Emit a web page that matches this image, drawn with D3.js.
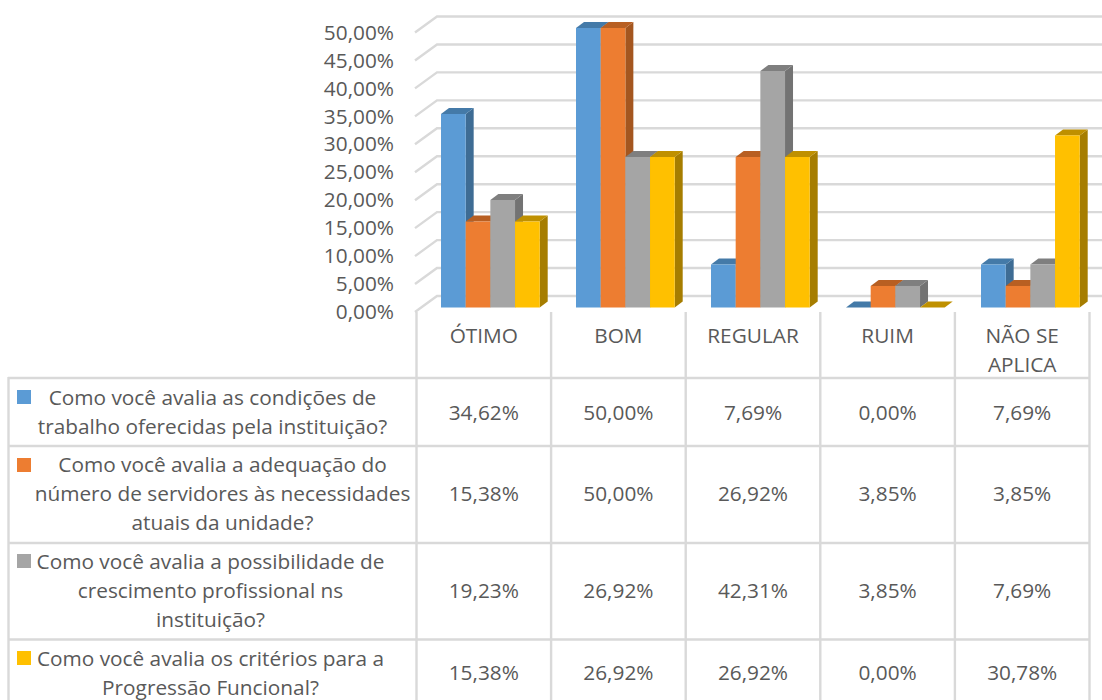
<!DOCTYPE html>
<html><head><meta charset="utf-8">
<style>html,body{margin:0;padding:0;background:#fff;overflow:hidden}svg{display:block}text{font-family:"Open Sans",sans-serif;fill:#595959}</style>
<script src="https://cdn.jsdelivr.net/npm/d3@7"></script></head><body>
<svg id="c" width="1102" height="700"></svg>
<script>
const categories=["ÓTIMO","BOM","REGULAR","RUIM","NÃO SE APLICA"];
const categoryLines=[["ÓTIMO"],["BOM"],["REGULAR"],["RUIM"],["NÃO SE","APLICA"]];
const seriesLabels=[
 ["Como você avalia as condições de","trabalho oferecidas pela instituição?"],
 ["Como você avalia a adequação do","número de servidores às necessidades","atuais da unidade?"],
 ["Como você avalia a possibilidade de","crescimento profissional ns","instituição?"],
 ["Como você avalia os critérios para a","Progressão Funcional?"]];
const s1=[34.62,50.00,7.69,0,7.69];
const s2=[15.38,50.00,26.92,3.85,3.85];
const s3=[19.23,26.92,42.31,3.85,7.69];
const s4=[15.38,26.92,26.92,0,30.78];
const series=[s1,s2,s3,s4];
const front=["#5B9BD5","#ED7D31","#A5A5A5","#FFC000"];
const side=["#3E6C94","#A4561F","#737373","#A67D00"];
const top_=["#447AA8","#B85F22","#7F7F7F","#BF9000"];
const grid="#D9D9D9",fs=20.8;
const fmt=v=>v.toFixed(2).replace(".",",")+"%";
const svg=d3.select("#c");
const y=d3.scaleLinear().domain([0,50]).range([311.5,32]);
const x=d3.scaleBand().domain(categories).range([416.5,1089.5]);
const barX=d3.scaleBand().domain(categories).range([416.5,1091.5]);
const inner=d3.scaleBand().domain(d3.range(4)).range([24.5,123.2]);
const wallDx=21,wallDy=15.5,barDy=4,dX=8,dY=6;
const ticks=d3.range(0,51,5);
const g=svg.append("g").attr("stroke",grid).attr("stroke-width",2.4).attr("fill","none");
ticks.forEach(t=>{
 g.append("path").attr("d",`M1102,${y(t)-wallDy}H${416+wallDx}L415,${y(t)+0.5}`);
});
categories.forEach((c,i)=>{
 series.forEach((s,k)=>{
  const x0=barX(c)+inner(k),w=inner.bandwidth(),yb=y(0)-barDy,yt=y(s[i])-barDy;
  const b=svg.append("g");
  b.append("path").attr("fill",side[k]).attr("d",`M${x0+w},${yt}l${dX},${-dY}V${yb-dY}l${-dX},${dY}Z`);
  b.append("path").attr("fill",top_[k]).attr("d",`M${x0},${yt}l${dX},${-dY}h${w}l${-dX},${dY}Z`);
  if(s[i]>0) b.append("rect").attr("x",x0).attr("y",yt).attr("width",w).attr("height",yb-yt).attr("fill",front[k]);
 });
});
const ax=svg.append("g").attr("transform","translate(415,0.5)").call(d3.axisLeft(y).tickValues(ticks).tickFormat(fmt).tickSize(0).tickPadding(21));
ax.select(".domain").remove();
ax.selectAll("text").attr("font-size",fs).style("font-family",'"Open Sans",sans-serif').attr("fill","#595959");
const rows=[378,446,543,639.5];
const t=svg.append("g").attr("stroke",grid).attr("stroke-width",2.4);
rows.forEach(r=>t.append("line").attr("x1",8).attr("x2",1090).attr("y1",r).attr("y2",r));
t.append("line").attr("x1",8.5).attr("x2",8.5).attr("y1",377).attr("y2",700);
x.domain().concat(["end"]).forEach((c,i)=>{
 const xx=416.5+i*x.bandwidth();
 t.append("line").attr("x1",xx).attr("x2",xx).attr("y1",312).attr("y2",700);
});
const T=(xx,yy,s)=>svg.append("text").attr("x",xx).attr("y",yy).attr("text-anchor","middle").attr("dominant-baseline","central").attr("font-size",fs).text(s);
categoryLines.forEach((l,i)=>l.forEach((s,j)=>T(x(categories[i])+x.bandwidth()/2,335+j*29,s)));
const labelCx=[212.5,222.5,210.5,210.5],firstY=[397,464,561,658],swY=[390,458,554,651],valY=[412,493,590,672];
seriesLabels.forEach((l,k)=>{
 svg.append("rect").attr("x",17).attr("y",swY[k]).attr("width",14).attr("height",14).attr("fill",front[k]);
 l.forEach((s,j)=>T(labelCx[k],firstY[k]+j*29,s));
 series[k].forEach((v,i)=>T(x(categories[i])+x.bandwidth()/2,valY[k],fmt(v)));
});
</script></body></html>
